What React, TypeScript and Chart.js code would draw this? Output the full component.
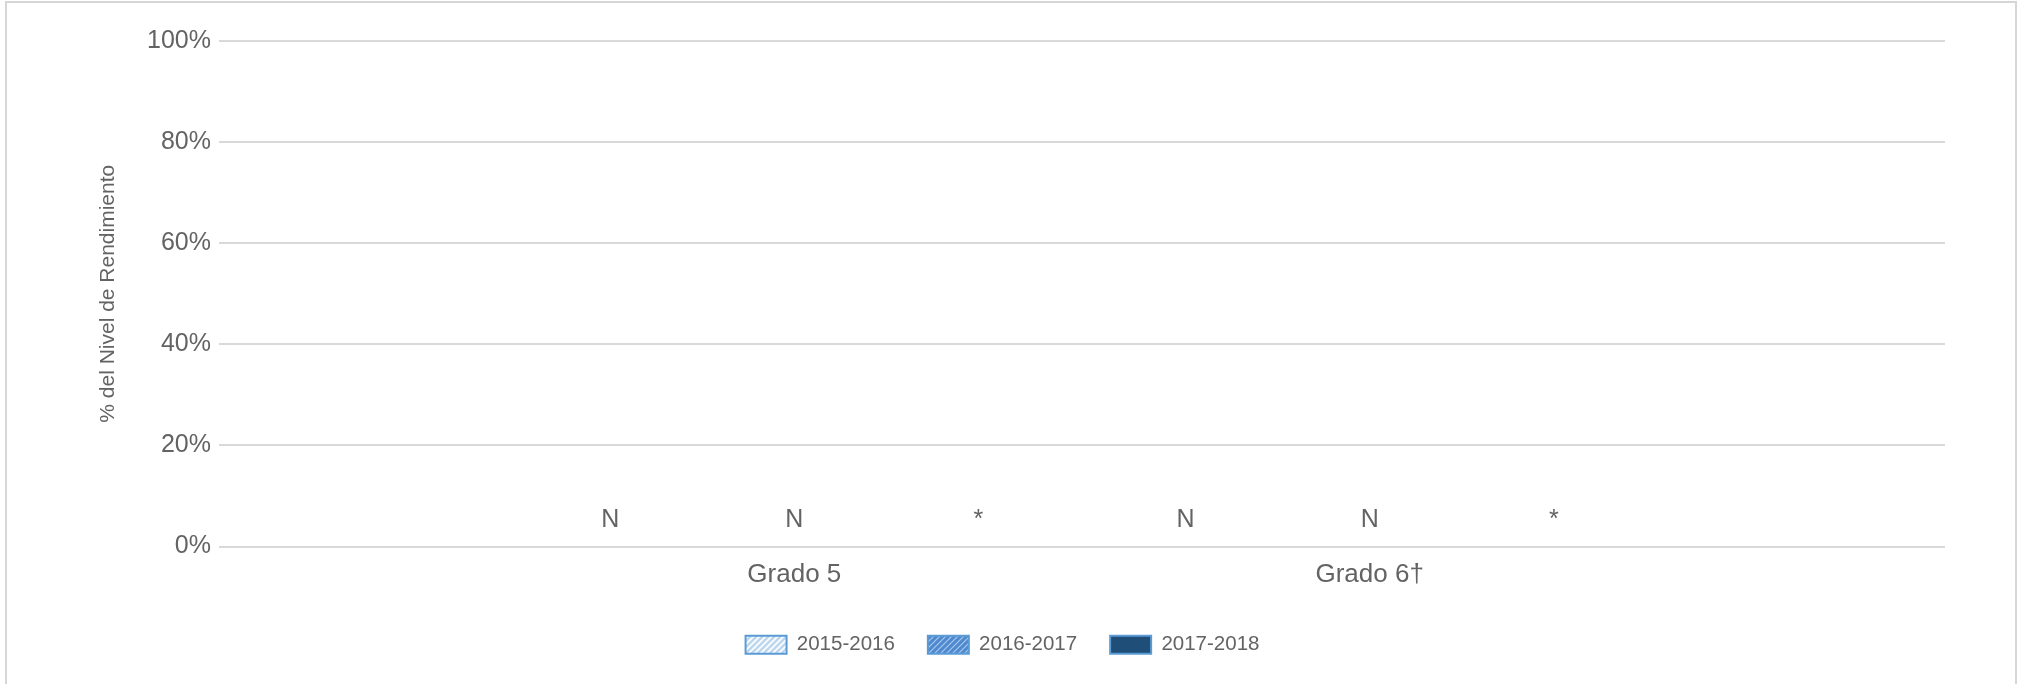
import React, { useEffect, useRef } from "react";
import { Chart, registerables } from "chart.js";

Chart.register(...registerables);

// ---- data ----
const categories = ["Grado 5", "Grado 6†"];
const seriesLabels = ["2015-2016", "2016-2017", "2017-2018"];
const values2015 = [0, 0];
const values2016 = [0, 0];
const values2017 = [0, 0];
const notes2015 = ["N", "N"];
const notes2016 = ["N", "N"];
const notes2017 = ["*", "*"];
const yAxisTitle = "% del Nivel de Rendimiento";
const yMin = 0;
const yMax = 100;
const yStep = 20;

const FONT = "'Liberation Sans', Arial, Helvetica, sans-serif";
const TEXT = "#636363";

function makeStripes(bg: string, stripe: string, lw: number, size: number) {
  const c = document.createElement("canvas");
  c.width = size;
  c.height = size;
  const g = c.getContext("2d")!;
  g.fillStyle = bg;
  g.fillRect(0, 0, size, size);
  g.strokeStyle = stripe;
  g.lineWidth = lw;
  g.beginPath();
  g.moveTo(0, size);
  g.lineTo(size, 0);
  g.moveTo(-size / 2, size / 2);
  g.lineTo(size / 2, -size / 2);
  g.moveTo(size / 2, size * 1.5);
  g.lineTo(size * 1.5, size / 2);
  g.stroke();
  return g.createPattern(c, "repeat");
}

const pad = (a: any[]) => [null, ...a, null];

const notesPlugin = {
  id: "notes",
  afterDatasetsDraw(chart: any) {
    const ctx = chart.ctx;
    const y0 = chart.scales.y.getPixelForValue(0);
    ctx.save();
    ctx.font = `25px ${FONT}`;
    ctx.fillStyle = TEXT;
    ctx.textAlign = "center";
    ctx.textBaseline = "alphabetic";
    chart.data.datasets.forEach((ds: any, di: number) => {
      const meta = chart.getDatasetMeta(di);
      const notes = ds.notes || [];
      meta.data.forEach((el: any, i: number) => {
        const t = notes[i];
        if (t) ctx.fillText(t, el.x, y0 - 20);
      });
    });
    ctx.restore();
  },
};

export default function App() {
  const ref = useRef<HTMLCanvasElement | null>(null);

  useEffect(() => {
    if (!ref.current) return;
    Chart.defaults.font.family = FONT;
    const p1 = makeStripes("#bdd7ee", "#ffffff", 1.6, 6);
    const p2 = makeStripes("#4f8ad0", "#a9c8ec", 1.2, 6);
    const border = "#5b9bd5";
    const chart = new Chart(ref.current, {
      type: "bar",
      data: {
        labels: pad(categories).map((c) => (c === null ? "" : c)),
        datasets: [
          { label: seriesLabels[0], data: pad(values2015), notes: pad(notes2015), backgroundColor: p1, borderColor: border, borderWidth: 2 } as any,
          { label: seriesLabels[1], data: pad(values2016), notes: pad(notes2016), backgroundColor: p2, borderColor: border, borderWidth: 2 } as any,
          { label: seriesLabels[2], data: pad(values2017), notes: pad(notes2017), backgroundColor: "#1f4e79", borderColor: border, borderWidth: 2 } as any,
        ],
      },
      options: {
        responsive: false,
        animation: false,
        devicePixelRatio: 1,
        datasets: { bar: { categoryPercentage: 0.96, barPercentage: 0.9 } },
        layout: { padding: { left: 53, right: 70, top: 38, bottom: 38 } },
        plugins: {
          tooltip: { enabled: false },
          legend: {
            position: "bottom",
            labels: {
              boxWidth: 41,
              boxHeight: 18,
              padding: 33,
              color: TEXT,
              font: { size: 20.5, family: FONT },
            },
          },
        },
        scales: {
          x: {
            type: "category",
            offset: false,
            grid: { display: false, drawTicks: false },
            border: { display: false },
            ticks: { color: TEXT, font: { size: 26, family: FONT }, padding: 13, autoSkip: false, maxRotation: 0 },
            afterFit: (s: any) => {
              s.height = 55;
            },
          },
          y: {
            min: yMin,
            max: yMax,
            ticks: {
              stepSize: yStep,
              callback: (v: any) => `${v}%`,
              color: TEXT,
              font: { size: 25, family: FONT },
              padding: 8,
            },
            grid: { color: "#d9d9d9", lineWidth: 2, drawTicks: false },
            border: { display: false },
            title: {
              display: true,
              text: yAxisTitle,
              color: TEXT,
              font: { size: 21, family: FONT },
              padding: { top: 36, bottom: 0 },
            },
            afterFit: (s: any) => {
              s.width = 159;
            },
          },
        },
      } as any,
      plugins: [notesPlugin],
    });
    return () => chart.destroy();
  }, []);

  return (
    <div
      style={{
        position: "absolute",
        left: 5,
        top: 1,
        width: 2008,
        height: 681,
        borderTop: "2px solid #d6d6d6",
        borderLeft: "2px solid #d6d6d6",
        borderRight: "2px solid #d6d6d6",
        overflow: "hidden",
        background: "#ffffff",
      }}
    >
      <canvas ref={ref} width={2008} height={700} style={{ display: "block" }} />
    </div>
  );
}
